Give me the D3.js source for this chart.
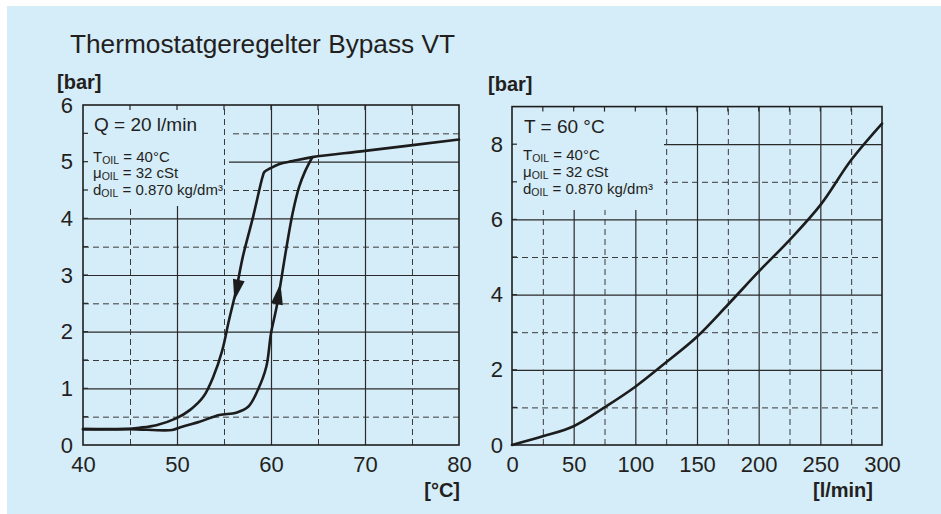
<!DOCTYPE html>
<html><head><meta charset="utf-8">
<script src="https://cdn.jsdelivr.net/npm/d3@7"></script>
<style>
html,body{margin:0;padding:0;background:#fff;}
text{font-family:"Liberation Sans",Arial,Helvetica,sans-serif;fill:#231f20;}
</style></head>
<body><svg id="c" width="941" height="514"></svg>
<script>
// ---------- DATA ----------
const title = "Thermostatgeregelter Bypass VT";
// Left chart: pressure vs temperature (hysteresis)
const leftXLabels = [40, 50, 60, 70, 80];
const leftXMajor = [50, 60, 70];
const leftXMinor = [45, 55, 65, 75];
const leftYLabels = [0, 1, 2, 3, 4, 5, 6];
const leftYMajor = [1, 2, 3, 4, 5];
const leftYMinor = [0.5, 1.5, 2.5, 3.5, 4.5, 5.5];
const heatT = [40, 45, 49.5, 50.3, 52.4, 54.5, 56.3, 57.6, 58.6, 59.5, 60.0, 60.6, 61.6, 62.3, 63.0, 63.6, 64.4];
const heatP = [0.28, 0.28, 0.265, 0.31, 0.41, 0.53, 0.57, 0.68, 0.97, 1.38, 1.97, 2.44, 3.44, 4.09, 4.56, 4.82, 5.08];
const coolT = [80, 70, 64.4, 62.3, 60.9, 59.9, 59.3, 59.1, 58.1, 57.0, 56.3, 55.5, 54.8, 53.9, 52.8, 51.4, 49.9, 47.8, 46.0, 44.3, 40];
const coolP = [5.39, 5.19, 5.08, 5.01, 4.96, 4.88, 4.82, 4.73, 4.03, 3.32, 2.74, 2.18, 1.66, 1.22, 0.85, 0.62, 0.47, 0.35, 0.305, 0.28, 0.28];
// arrow heads: tip location and the data segment giving the direction
const arrowTipT = [56.1, 61.0];
const arrowTipP = [2.55, 2.85];
const arrowFromT = [57.0, 60.6], arrowFromP = [3.32, 2.44];
const arrowToT = [55.5, 61.6], arrowToP = [2.18, 3.44];
const leftLegendTitle = "Q = 20 l/min";
// Right chart: pressure vs flow
const rightXLabels = [0, 50, 100, 150, 200, 250, 300];
const rightXMajor = [50, 100, 150, 200, 250];
const rightXMinor = [25, 75, 125, 175, 225, 275];
const rightYLabels = [0, 2, 4, 6, 8];
const rightYMajor = [2, 4, 6, 8];
const rightYMinor = [1, 3, 5, 7];
const flowQ = [0, 25, 50, 75, 100, 125, 150, 175, 200, 225, 250, 275, 300];
const flowP = [0, 0.23, 0.5, 1.0, 1.55, 2.2, 2.88, 3.73, 4.61, 5.45, 6.38, 7.58, 8.55];
const rightLegendTitle = "T = 60 °C";
const oilLines = [["T", " = 40°C"], ["μ", " = 32 cSt"], ["d", " = 0.870 kg/dm³"]];
const unitY = "[bar]";
const unitXLeft = "[°C]";
const unitXRight = "[l/min]";

// ---------- DRAW ----------
const svg = d3.select("#c");
const BG = "#d5ecf9";
svg.append("rect").attr("x", 7).attr("y", 6).attr("width", 934).attr("height", 508).attr("fill", BG);

svg.append("text").attr("x", 70).attr("y", 53).attr("font-size", 25)
  .attr("textLength", 385).attr("lengthAdjust", "spacingAndGlyphs").text(title);

function panel(o) {
  const g = svg.append("g");
  const x = o.x, y = o.y;
  const [x0, x1] = x.range(), [y0, y1] = y.range(); // y0 bottom, y1 top
  const w = x1 - x0, h = y0 - y1;
  function grid(axisFn, scale, vals, size, dashed, tr) {
    const a = g.append("g").attr("transform", tr)
      .call(axisFn(scale).tickValues(vals).tickSize(size).tickFormat(""));
    a.select(".domain").remove();
    a.selectAll("line").attr("stroke", dashed ? "#3a3a3a" : "#2a2a2a")
      .attr("stroke-width", dashed ? 1 : 1.2)
      .attr("stroke-dasharray", dashed ? "6,4" : null);
  }
  // horizontal grid
  grid(d3.axisLeft, y, o.yMinor, -w, true, `translate(${x0},0)`);
  grid(d3.axisLeft, y, o.yMajor, -w, false, `translate(${x0},0)`);
  g.append("rect").attr("x", x0 + 1).attr("y", y1 + 1).attr("width", o.boxH - x0 - 1).attr("height", o.boxBottom - y1 - 1).attr("fill", BG);
  // vertical grid
  grid(d3.axisBottom, x, o.xMinor, -h, true, `translate(0,${y0})`);
  grid(d3.axisBottom, x, o.xMajor, -h, false, `translate(0,${y0})`);
  g.append("rect").attr("x", x0 + 1).attr("y", y1 + 1).attr("width", o.boxV - x0 - 1).attr("height", o.boxBottom - y1 - 1).attr("fill", BG);
  // small inward stubs on frame
  const allX = o.xMajor.concat(o.xMinor), allY = o.yMajor.concat(o.yMinor);
  g.selectAll(null).data(allX).enter().append("line")
    .attr("x1", d => x(d)).attr("x2", d => x(d)).attr("y1", y1).attr("y2", y1 + 5)
    .attr("stroke", "#2a2a2a").attr("stroke-width", 1.2);
  g.selectAll(null).data(allY).enter().append("line")
    .attr("x1", x0).attr("x2", x0 + 5).attr("y1", d => y(d)).attr("y2", d => y(d))
    .attr("stroke", "#2a2a2a").attr("stroke-width", 1.2);
  // frame
  g.append("rect").attr("x", x0).attr("y", y1).attr("width", w).attr("height", h)
    .attr("fill", "none").attr("stroke", "#1e1e1e").attr("stroke-width", 1.6);
  // tick labels
  const ax = g.append("g").attr("transform", `translate(0,${y0})`)
    .call(d3.axisBottom(x).tickValues(o.xLabels).tickSize(0).tickPadding(11).tickFormat(d3.format("d")));
  ax.select(".domain").remove();
  ax.selectAll("text").attr("font-size", 22).attr("font-family", null).attr("fill", "#231f20");
  const ay = g.append("g").attr("transform", `translate(${x0},0)`)
    .call(d3.axisLeft(y).tickValues(o.yLabels).tickSize(0).tickPadding(o.yPad).tickFormat(d3.format("d")));
  ay.select(".domain").remove();
  ay.selectAll("text").attr("font-size", 22).attr("font-family", null).attr("fill", "#231f20");
  // legend
  g.append("text").attr("x", o.legX).attr("y", o.legTitleY).attr("font-size", 19).text(o.legTitle);
  oilLines.forEach((l, i) => {
    const t = g.append("text").attr("x", o.legX - 1).attr("y", o.legY[i]).attr("font-size", 15);
    t.append("tspan").text(l[0]);
    t.append("tspan").attr("font-size", 10.5).attr("dy", 2).text("OIL");
    t.append("tspan").attr("dy", -2).text(l[1]);
  });
  // units
  g.append("text").attr("x", o.unitYX).attr("y", o.unitYY).attr("font-size", 20).attr("font-weight", "bold").text(unitY);
  g.append("text").attr("x", o.unitXX).attr("y", 497).attr("text-anchor", "end").attr("font-size", 20).attr("font-weight", "bold").text(o.unitX);
  return g;
}

const xL = d3.scaleLinear().domain([40, 80]).range([83, 459]);
const yL = d3.scaleLinear().domain([0, 6]).range([445, 105]);
const gL = panel({x: xL, y: yL, xMajor: leftXMajor, xMinor: leftXMinor, yMajor: leftYMajor, yMinor: leftYMinor,
  xLabels: leftXLabels, yLabels: leftYLabels, yPad: 10, boxH: 229, boxV: 222, boxBottom: 206,
  legX: 94, legTitleY: 131, legTitle: leftLegendTitle, legY: [162, 178, 195],
  unitYX: 57, unitYY: 89, unitXX: 460, unitX: unitXLeft});

const xR = d3.scaleLinear().domain([0, 300]).range([512, 882]);
const yR = d3.scaleLinear().domain([0, 9]).range([445, 106.6]);
const gR = panel({x: xR, y: yR, xMajor: rightXMajor, xMinor: rightXMinor, yMajor: rightYMajor, yMinor: rightYMinor,
  xLabels: rightXLabels, yLabels: rightYLabels, yPad: 9, boxH: 664, boxV: 664, boxBottom: 210,
  legX: 524, legTitleY: 133, legTitle: rightLegendTitle, legY: [160, 177, 194],
  unitYX: 488, unitYY: 91, unitXX: 873, unitX: unitXRight});

// curves
const curveStyle = sel => sel.attr("fill", "none").attr("stroke", "#1c1c1c").attr("stroke-width", 2.6)
  .attr("stroke-linejoin", "round").attr("stroke-linecap", "round");
const lineL = d3.line().x(d => xL(d[0])).y(d => yL(d[1])).curve(d3.curveCatmullRom.alpha(0.5));
gL.append("path").attr("d", lineL(heatT.map((t, i) => [t, heatP[i]]))).call(curveStyle);
gL.append("path").attr("d", lineL(coolT.map((t, i) => [t, coolP[i]]))).call(curveStyle);
const lineR = d3.line().x(d => xR(d[0])).y(d => yR(d[1])).curve(d3.curveCatmullRom.alpha(0.5));
gR.append("path").attr("d", lineR(flowQ.map((q, i) => [q, flowP[i]]))).call(curveStyle);

// arrow heads
arrowTipT.forEach((t, i) => {
  const tx = xL(t), ty = yL(arrowTipP[i]);
  const dx = xL(arrowToT[i]) - xL(arrowFromT[i]), dy = yL(arrowToP[i]) - yL(arrowFromP[i]);
  const len = Math.hypot(dx, dy), ux = dx / len, uy = dy / len;
  const L = 21, Wd = 6;
  const bx = tx - ux * L, by = ty - uy * L;
  const pts = [[tx, ty], [bx - uy * Wd, by + ux * Wd], [bx + uy * Wd, by - ux * Wd]];
  gL.append("path").attr("d", "M" + pts.map(p => p.join(",")).join("L") + "Z").attr("fill", "#1c1c1c");
});
</script></body></html>
